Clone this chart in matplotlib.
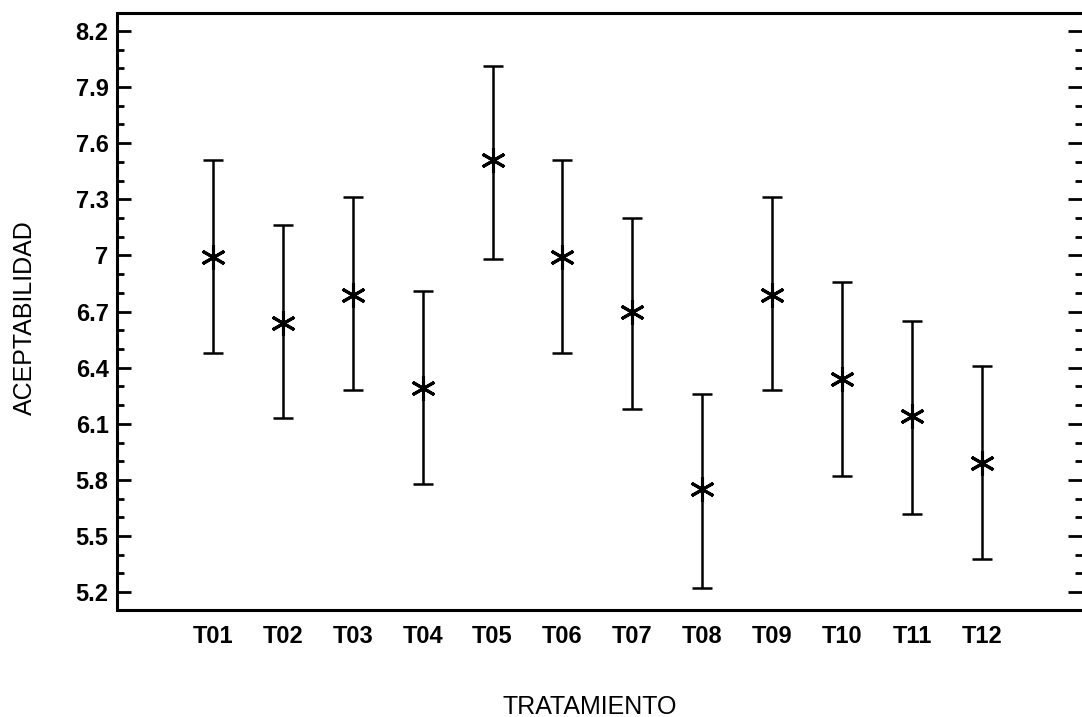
import numpy as np
import matplotlib
matplotlib.use('Agg')
import matplotlib.pyplot as plt
from matplotlib.ticker import MultipleLocator, FuncFormatter

# data: mean and interval limits per treatment
tratamientos = ['T01', 'T02', 'T03', 'T04', 'T05', 'T06',
                'T07', 'T08', 'T09', 'T10', 'T11', 'T12']
medias = [6.99, 6.64, 6.79, 6.29, 7.51, 6.99, 6.70, 5.75, 6.79, 6.34, 6.14, 5.89]
limite_inf = [6.48, 6.13, 6.28, 5.78, 6.98, 6.48, 6.18, 5.22, 6.28, 5.82, 5.62, 5.38]
limite_sup = [7.51, 7.16, 7.31, 6.81, 8.01, 7.51, 7.20, 6.26, 7.31, 6.86, 6.65, 6.41]
yticks = [5.2, 5.5, 5.8, 6.1, 6.4, 6.7, 7.0, 7.3, 7.6, 7.9, 8.2]

tick_family = ['Liberation Sans', 'DejaVu Sans']
label_font = {'family': ['Liberation Sans', 'DejaVu Sans'], 'size': 18}

fig = plt.figure(figsize=(10.82, 7.17), dpi=100)
ax = fig.add_axes([0.108, 0.149, 0.892, 0.833])

x = np.arange(1, len(tratamientos) + 1)
medias = np.array(medias)
err = [medias - np.array(limite_inf), np.array(limite_sup) - medias]

# interval bars
ax.errorbar(x, medias, yerr=err, fmt='none', ecolor='black',
            elinewidth=1.8, capsize=7, capthick=1.8)
# asterisk markers
ax.plot(x, medias, linestyle='none', marker=(6, 2, 0), markersize=18,
        markeredgewidth=2.2, color='black')

ax.set_xlim(-0.373, 13.43)
ax.set_ylim(5.104, 8.296)

ax.set_xticks(x)
ax.set_xticklabels(tratamientos)
ax.set_yticks(yticks)
ax.yaxis.set_major_formatter(FuncFormatter(lambda v, p: '%g' % round(v, 1)))
ax.yaxis.set_minor_locator(MultipleLocator(0.1))
for lbl in ax.get_xticklabels() + ax.get_yticklabels():
    lbl.set_fontfamily(tick_family)
    lbl.set_fontweight('bold')
    lbl.set_fontsize(17)

ax.tick_params(axis='x', length=0, pad=11)
ax.tick_params(axis='y', which='major', direction='in', length=10, width=2,
               left=True, right=True, pad=6)
ax.tick_params(axis='y', which='minor', direction='in', length=5, width=2,
               left=True, right=True)

for side in ['left', 'bottom', 'top']:
    ax.spines[side].set_linewidth(2.2)
ax.spines['right'].set_visible(False)

ax.set_xlabel('TRATAMIENTO', fontdict=label_font)
ax.set_ylabel('ACEPTABILIDAD', fontdict=label_font)
ax.xaxis.set_label_coords(0.49, -0.142)
ax.yaxis.set_label_coords(-0.083, 0.49)

fig.savefig('out.png', dpi=100)
